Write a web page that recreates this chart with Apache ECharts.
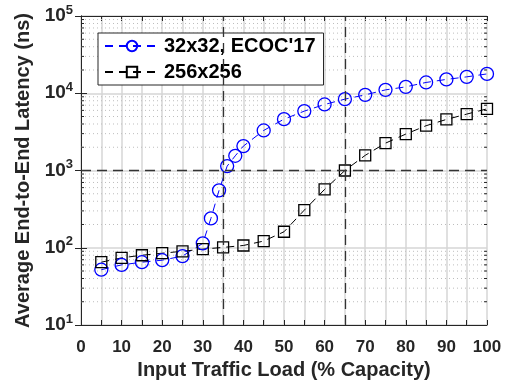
<!DOCTYPE html>
<html>
<head>
<meta charset="utf-8">
<script src="https://cdn.jsdelivr.net/npm/echarts@6/dist/echarts.min.js"></script>
<style>
  html, body { margin: 0; padding: 0; background: #fff; }
  #chart { width: 507px; height: 387px; }
</style>
</head>
<body>
<div id="chart"></div>
<script>
// load (% capacity) vs latency (ns)
const loadSmall = [5, 10, 15, 20, 25, 30, 32, 34, 36, 38, 40, 45, 50, 55, 60, 65, 70, 75, 80, 85, 90, 95, 100];
const latSmall  = [52, 60, 65, 69, 78, 114, 240, 553, 1140, 1550, 2070, 3300, 4620, 5870, 7160, 8390, 9530, 11060, 12100, 13800, 15100, 16300, 17800];
const loadLarge = [5, 10, 15, 20, 25, 30, 35, 40, 45, 50, 55, 60, 65, 70, 75, 80, 85, 90, 95, 100];
const latLarge  = [65, 74, 80, 85, 90, 96, 101, 107, 122, 161, 307, 569, 1000, 1570, 2260, 2960, 3800, 4580, 5370, 6280];
const seriesNames = ["32x32, ECOC'17", "256x256"];
const refLoads = [35, 65];
const refLatency = [1000];

const TXT = "#262626";
const FONT = "Liberation Sans";

// dotted minor grid at 2..9 of each decade
const minorVals = [];
for (let d = 10; d < 100000; d *= 10) {
  for (let k = 2; k <= 9; k++) minorVals.push(k * d);
}

const chart = echarts.init(document.getElementById("chart"), null, { renderer: "canvas" });

const xBase = {
  type: "value", min: 0, max: 100, interval: 5,
  axisLine: { show: true, lineStyle: { color: TXT, width: 1 } },
  axisTick: { show: true, inside: true, length: 5, lineStyle: { color: TXT } },
};
const yBase = {
  type: "log", logBase: 10, min: 10, max: 100000,
  axisLine: { show: true, lineStyle: { color: TXT, width: 1 } },
  axisTick: { show: true, inside: true, length: 6, lineStyle: { color: TXT } },
};

chart.setOption({
  animation: false,
  textStyle: { fontFamily: FONT },
  grid: { left: 81, right: 20, top: 16, bottom: 62 },
  legend: {
    left: 98, top: 33, orient: "vertical",
    padding: [3, 8, 3, 6],
    itemGap: 6, itemWidth: 54, itemHeight: 13,
    backgroundColor: "#fff",
    borderColor: TXT, borderWidth: 1,
    textStyle: { fontFamily: FONT, fontWeight: "bold", fontSize: 20, color: "#000" },
    data: seriesNames,
  },
  xAxis: [
    Object.assign({}, xBase, {
      position: "bottom",
      name: "Input Traffic Load (% Capacity)",
      nameLocation: "middle", nameGap: 35,
      nameTextStyle: { fontFamily: FONT, fontWeight: "bold", fontSize: 20, color: TXT },
      axisLabel: {
        margin: 14, fontFamily: FONT, fontWeight: "bold", fontSize: 17, color: TXT,
        formatter: (v) => (v % 10 === 0 ? String(v) : ""),
      },
      splitLine: { show: true, lineStyle: { color: "#d6d6d6", width: 1.5 } },
    }),
    Object.assign({}, xBase, {
      position: "top", axisLabel: { show: false }, splitLine: { show: false },
    }),
  ],
  yAxis: [
    Object.assign({}, yBase, {
      position: "left",
      name: "Average End-to-End Latency (ns)",
      nameLocation: "middle", nameGap: 47,
      nameTextStyle: { fontFamily: FONT, fontWeight: "bold", fontSize: 20, color: TXT },
      axisLabel: {
        margin: 8, color: TXT,
        formatter: (v) => "{b|10}{s|" + Math.round(Math.log10(v)) + "}",
        rich: {
          b: { fontFamily: FONT, fontWeight: "bold", fontSize: 19, color: TXT },
          s: { fontFamily: FONT, fontWeight: "bold", fontSize: 13, color: TXT, verticalAlign: "top", padding: [0, 0, 12, 0] },
        },
      },
      splitLine: { show: true, lineStyle: { color: "#d6d6d6", width: 1.5 } },
    }),
    Object.assign({}, yBase, {
      position: "right", axisLabel: { show: false }, splitLine: { show: false },
    }),
  ],
  series: [
    {
      // minor log grid and minor ticks
      type: "custom",
      silent: true,
      z: 1,
      data: minorVals.map((v) => [0, v]),
      renderItem: (params, api) => {
        const v = api.value(1);
        const a = api.coord([0, v]);
        const b = api.coord([100, v]);
        return {
          type: "group",
          children: [
            { type: "line", shape: { x1: a[0], y1: a[1], x2: b[0], y2: b[1] },
              style: { stroke: "#bdbdbd", lineWidth: 1, lineDash: [1, 3] } },
            { type: "line", shape: { x1: a[0], y1: a[1], x2: a[0] + 3, y2: a[1] },
              style: { stroke: TXT, lineWidth: 1 } },
            { type: "line", shape: { x1: b[0], y1: b[1], x2: b[0] - 3, y2: b[1] },
              style: { stroke: TXT, lineWidth: 1 } },
          ],
        };
      },
    },
    {
      name: seriesNames[0],
      type: "line",
      z: 3,
      data: loadSmall.map((x, i) => [x, latSmall[i]]),
      symbol: "circle", symbolSize: 13,
      itemStyle: { color: "rgba(0,0,0,0)", borderColor: "#0000ff", borderWidth: 1.3 },
      lineStyle: { color: "#0000ff", width: 1, type: [8, 6] },
      markLine: {
        silent: true, symbol: "none", label: { show: false },
        lineStyle: { color: "#333", width: 1.3, type: [10, 6] },
        data: refLoads.map((x) => ({ xAxis: x })).concat(refLatency.map((y) => ({ yAxis: y }))),
      },
    },
    {
      name: seriesNames[1],
      type: "line",
      z: 3,
      data: loadLarge.map((x, i) => [x, latLarge[i]]),
      symbol: "rect", symbolSize: 11,
      itemStyle: { color: "rgba(0,0,0,0)", borderColor: "#000", borderWidth: 1.3 },
      lineStyle: { color: "#000", width: 1, type: [8, 6] },
    },
  ],
});
</script>
</body>
</html>
